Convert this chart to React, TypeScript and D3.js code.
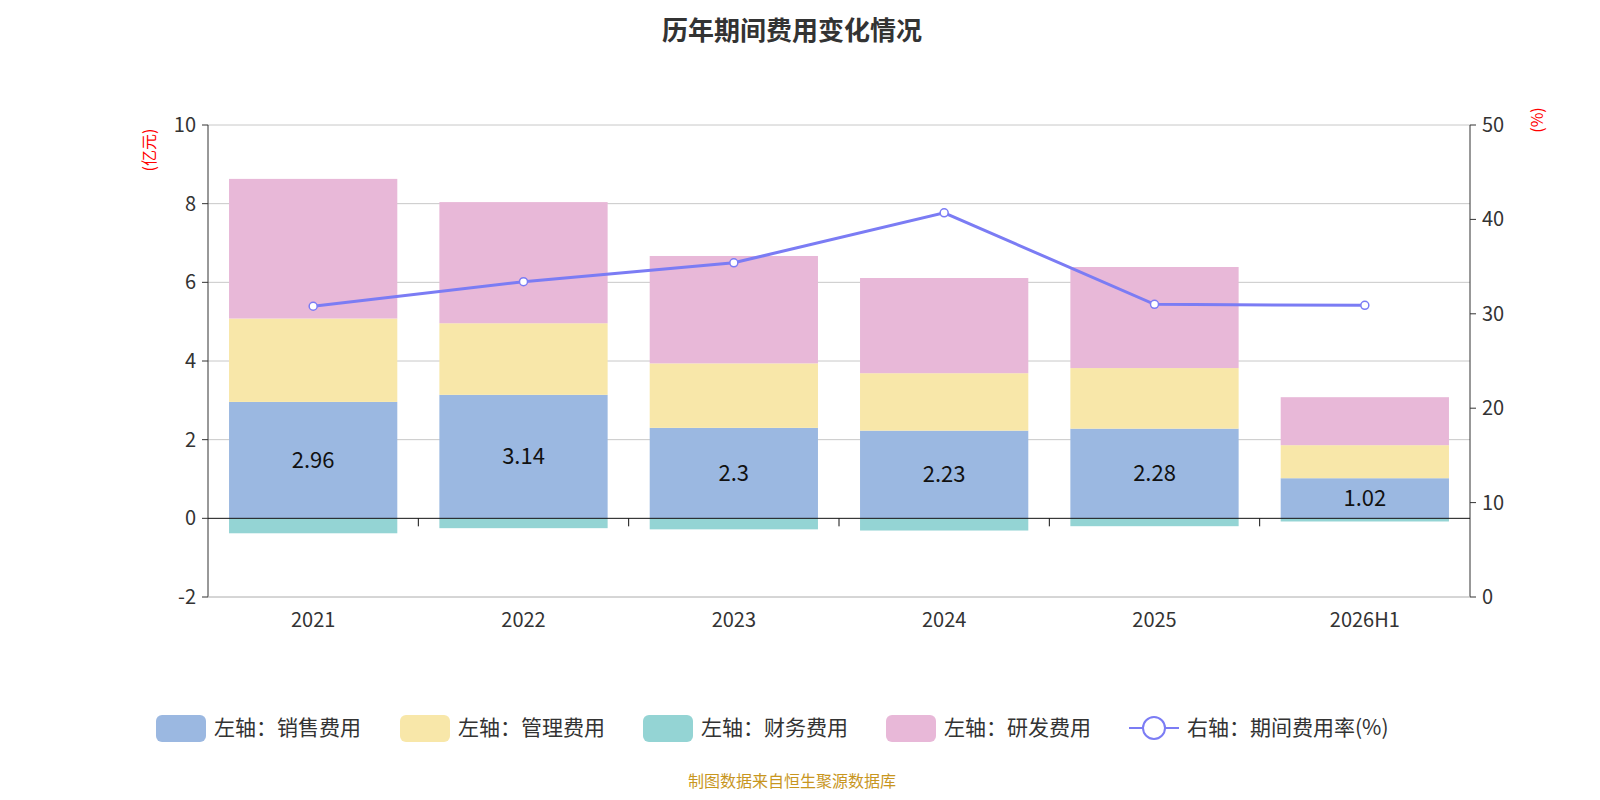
import React from "react";
import * as d3 from "d3";

const categories = ["2021", "2022", "2023", "2024", "2025", "2026H1"];
const sales = [2.96, 3.14, 2.3, 2.23, 2.28, 1.02];
const admin = [2.12, 1.82, 1.64, 1.46, 1.54, 0.84];
const finance = [-0.38, -0.25, -0.28, -0.31, -0.2, -0.08];
const rnd = [3.55, 3.08, 2.73, 2.42, 2.57, 1.22];
const rate = [30.8, 33.4, 35.4, 40.7, 31.0, 30.9];
const leftTicks = [-2, 0, 2, 4, 6, 8, 10];
const rightTicks = [0, 10, 20, 30, 40, 50];

const C = { sales: "#9bb8e1", admin: "#f8e7a9", fin: "#94d4d4", rnd: "#e8b8d8", line: "#7b7cf4" };
const font = "'Noto Sans CJK SC', 'Noto Sans', sans-serif";

export default function App() {
  const L = 200, R = 1462, T = 117, B = 589;
  const x = d3.scaleBand().domain(categories).range([L, R]).paddingInner(0.2).paddingOuter(0.1);
  const xo = d3.scaleBand().domain(categories).range([L, R]);
  const y = d3.scaleLinear().domain([-2, 10]).range([B, T]);
  const yr = d3.scaleLinear().domain([0, 50]).range([B, T]);
  const line = d3.line<number>().x((_, i) => xo(categories[i])! + xo.bandwidth() / 2).y(d => yr(d));
  const legend = [
    { c: C.sales, t: "左轴：销售费用", x: 148 },
    { c: C.admin, t: "左轴：管理费用", x: 392 },
    { c: C.fin, t: "左轴：财务费用", x: 635 },
    { c: C.rnd, t: "左轴：研发费用", x: 878 },
  ];
  return (
    <svg width={1584} height={784} style={{ display: "block", fontFamily: font }}>
      <text x={784} y={32} textAnchor="middle" fontSize={26} fontWeight="bold" fill="#333">历年期间费用变化情况</text>
      {leftTicks.map(t => (
        <g key={t}>
          {t !== 0 && <line x1={L} x2={R} y1={y(t)} y2={y(t)} stroke="#c8c8c8" />}
          <line x1={L - 6} x2={L} y1={y(t)} y2={y(t)} stroke="#333" />
          <text x={L - 12} y={y(t)} dy="0.35em" textAnchor="end" fontSize={20} fill="#333">{t}</text>
        </g>
      ))}
      {rightTicks.map(t => (
        <g key={t}>
          <line x1={R} x2={R + 6} y1={yr(t)} y2={yr(t)} stroke="#333" />
          <text x={R + 12} y={yr(t)} dy="0.35em" fontSize={20} fill="#333">{t}</text>
        </g>
      ))}
      <line x1={L} x2={L} y1={T} y2={B} stroke="#333" />
      <line x1={R} x2={R} y1={T} y2={B} stroke="#333" />
      <text transform={`translate(147,${T + 25}) rotate(-90)`} textAnchor="middle" fontSize={16} fill="red">(亿元)</text>
      <text transform={`translate(1535,${T - 5}) rotate(-90)`} textAnchor="middle" fontSize={16} fill="red">(%)</text>
      {categories.map((c, i) => {
        const bx = x(c)!, w = x.bandwidth();
        return (
          <g key={c}>
            <rect x={bx} width={w} y={y(0)} height={y(finance[i]) - y(0)} fill={C.fin} />
            <rect x={bx} width={w} y={y(sales[i])} height={y(0) - y(sales[i])} fill={C.sales} />
            <rect x={bx} width={w} y={y(sales[i] + admin[i])} height={y(sales[i]) - y(sales[i] + admin[i])} fill={C.admin} />
            <rect x={bx} width={w} y={y(sales[i] + admin[i] + rnd[i])} height={y(sales[i] + admin[i]) - y(sales[i] + admin[i] + rnd[i])} fill={C.rnd} />
            <text x={bx + w / 2} y={y(sales[i] / 2)} dy="0.35em" textAnchor="middle" fontSize={22} fill="#111">{sales[i]}</text>
            <text x={xo(c)! + xo.bandwidth() / 2} y={B + 30} textAnchor="middle" fontSize={20} fill="#333">{c}</text>
          </g>
        );
      })}
      <line x1={L} x2={R} y1={y(0)} y2={y(0)} stroke="#111" />
      {categories.slice(1).map(c => (
        <line key={c} x1={xo(c)!} x2={xo(c)!} y1={y(0)} y2={y(0) + 8} stroke="#111" />
      ))}
      <line x1={L} x2={R} y1={B} y2={B} stroke="#c8c8c8" />
      <path d={line(rate)!} fill="none" stroke={C.line} strokeWidth={3} />
      {rate.map((r, i) => (
        <circle key={i} cx={xo(categories[i])! + xo.bandwidth() / 2} cy={yr(r)} r={4} fill="#fff" stroke={C.line} strokeWidth={1.5} />
      ))}
      {legend.map(l => (
        <g key={l.t}>
          <rect x={l.x} y={707} width={50} height={27} rx={6} fill={l.c} />
          <text x={l.x + 58} y={720} dy="0.35em" fontSize={21} fill="#333">{l.t}</text>
        </g>
      ))}
      <line x1={1121} x2={1171} y1={720} y2={720} stroke={C.line} strokeWidth={2} />
      <circle cx={1146} cy={720} r={11} fill="#fff" stroke={C.line} strokeWidth={2} />
      <text x={1179} y={720} dy="0.35em" fontSize={21} fill="#333">右轴：期间费用率(%)</text>
      <text x={784} y={773} dy="0.35em" textAnchor="middle" fontSize={16} fill="#c8961e">制图数据来自恒生聚源数据库</text>
    </svg>
  );
}
